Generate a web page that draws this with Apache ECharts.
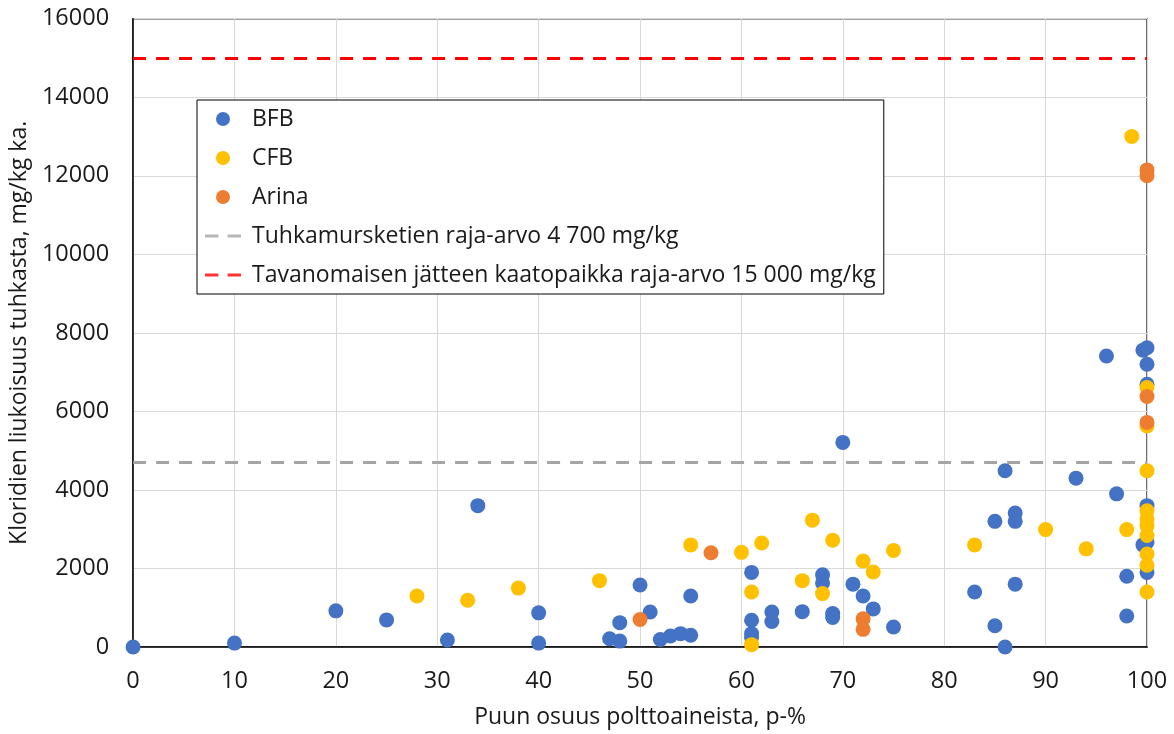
<!DOCTYPE html>
<html>
<head>
<meta charset="utf-8">
<script src="https://cdn.jsdelivr.net/npm/echarts@6/dist/echarts.min.js"></script>
<style>
html,body{margin:0;padding:0;background:#fff;}
#chart{width:1174px;height:734px;}
</style>
</head>
<body>
<div id="chart"></div>
<script>
// Data: [wood share %, chloride mg/kg]
const bfb = [
  [0,0],[10,100],[20,920],[25,690],[31,180],[34,3600],[40,870],[40,100],
  [47,210],[48,620],[48,150],[50,1580],[51,890],[52,190],[53,280],[54,340],
  [55,300],[55,1300],[61,1900],[61,680],[61,340],[61,250],[63,890],[63,650],
  [66,900],[68,1840],[68,1630],[69,850],[69,750],[70,5210],[71,1600],[72,1300],
  [73,970],[75,510],[83,1400],[85,3200],[85,540],[86,4490],[86,0],[87,3410],
  [87,3200],[87,1600],[93,4300],[96,7410],[97,3900],[98,1800],[98,790],
  [99.6,7560],[99.6,2600],[100,7620],[100,7200],[100,6690],[100,3600],[100,2670],[100,1900]
];
const cfb = [
  [28,1300],[33,1190],[38,1500],[46,1690],[55,2600],[60,2410],[61,1400],[61,60],
  [62,2650],[66,1690],[67,3230],[68,1360],[69,2720],[72,2190],[73,1910],[75,2460],
  [83,2600],[90,2990],[94,2500],[98,2990],[98.5,13000],[100,6610],[100,5630],
  [100,4490],[100,3470],[100,3260],[100,3090],[100,2840],[100,2370],[100,2080],[100,1400]
];
const arina = [
  [50,700],[57,2400],[72,720],[72,450],[100,12150],[100,12000],[100,6380],[100,5720]
];
const limitAsh = 4700;
const limitLandfill = 15000;
const seriesNames = ['BFB','CFB','Arina',
  'Tuhkamursketien raja-arvo 4 700 mg/kg',
  'Tavanomaisen jätteen kaatopaikka raja-arvo 15 000 mg/kg'];
const xName = 'Puun osuus polttoaineista, p-%';
const yName = 'Kloridien liukoisuus tuhkasta, mg/kg ka.';

const FONT = '"Open Sans"';
const TXT = '#1a1a1a';
const DASH_ICON = 'path://M0,0h13v3h-13z M22,0h13v3h-13z';
const chart = echarts.init(document.getElementById('chart'), null, {renderer:'canvas'});
const scatterStyle = (c) => ({color:c, opacity:1});
const limitSeries = (name, value, color) => ({
  name:name, type:'scatter', data:[], color:color, itemStyle:{color:color},
  markLine:{
    silent:true, symbol:['none','none'], label:{show:false},
    lineStyle:{color:color, width:3, type:[13,10]},
    data:[{yAxis:value}]
  }, z:2
});
chart.setOption({
  animation:false,
  backgroundColor:'#fff',
  grid:{left:132, right:27, top:18.7, bottom:85.7, show:true, borderColor:'#404040', borderWidth:1.5},
  xAxis:{
    type:'value', min:0, max:100, interval:10,
    name:xName, nameLocation:'middle', nameGap:59,
    nameTextStyle:{fontFamily:FONT, fontSize:23, color:TXT},
    axisLine:{show:true, onZero:false, lineStyle:{color:'#000', width:1.5}},
    axisTick:{show:false},
    axisLabel:{fontFamily:FONT, fontSize:23.5, color:TXT, margin:22},
    splitLine:{show:true, lineStyle:{color:'#d9d9d9', width:1}}
  },
  yAxis:{
    type:'value', min:0, max:16000, interval:2000,
    name:yName, nameLocation:'middle', nameGap:98,
    nameTextStyle:{fontFamily:FONT, fontSize:23, color:TXT},
    axisLine:{show:true, lineStyle:{color:'#000', width:1.5}},
    axisTick:{show:false},
    axisLabel:{fontFamily:FONT, fontSize:23.5, color:TXT, margin:24, formatter:(v)=>String(v)},
    splitLine:{show:true, lineStyle:{color:'#d9d9d9', width:1}}
  },
  legend:{
    orient:'vertical', left:197, top:100,
    backgroundColor:'#fff', borderColor:'#000', borderWidth:1,
    padding:[7,8,7,8],
    itemWidth:36, itemHeight:14, itemGap:15,
    textStyle:{fontFamily:FONT, fontSize:23, color:TXT, lineHeight:24, padding:[0,0,0,6]},
    data:[
      {name:seriesNames[0], icon:'circle'},
      {name:seriesNames[1], icon:'circle'},
      {name:seriesNames[2], icon:'circle'},
      {name:seriesNames[3], icon:DASH_ICON},
      {name:seriesNames[4], icon:DASH_ICON}
    ]
  },
  series:[
    {name:seriesNames[0], type:'scatter', data:bfb, symbol:'circle', symbolSize:15, itemStyle:scatterStyle('#4472c4'), z:3},
    {name:seriesNames[1], type:'scatter', data:cfb, symbol:'circle', symbolSize:15, itemStyle:scatterStyle('#ffc000'), z:3},
    {name:seriesNames[2], type:'scatter', data:arina, symbol:'circle', symbolSize:15, itemStyle:scatterStyle('#ed7d31'), z:3},
    limitSeries(seriesNames[3], limitAsh, '#a5a5a5'),
    limitSeries(seriesNames[4], limitLandfill, '#ff0000')
  ]
});
</script>
</body>
</html>
